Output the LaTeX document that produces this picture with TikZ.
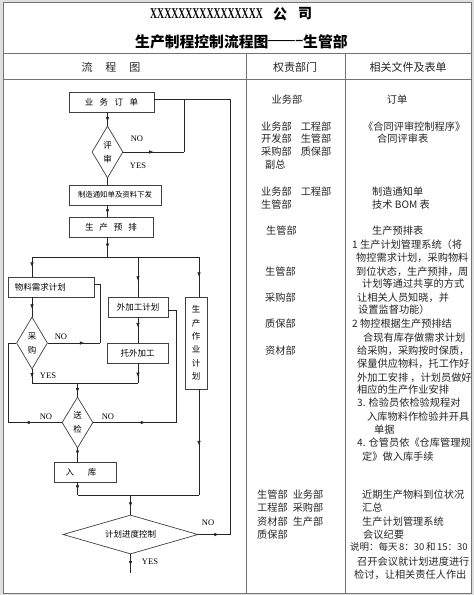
\documentclass[tikz,border=0pt]{standalone}
\usepackage{fontspec}
\setmainfont{Liberation Serif}
\newfontfamily\cjk{Noto Sans CJK SC}
\usetikzlibrary{shapes.geometric,arrows.meta,decorations.markings}
\tikzset{
 fbox/.style={draw=black!75, line width=0.7pt, fill=white, inner sep=0pt, minimum height=20pt, font=\cjk\fontsize{8.5}{10}\selectfont},
 fdia/.style={draw=black!75, line width=0.7pt, shape=diamond, aspect=0.6, inner sep=0pt, font=\cjk\fontsize{8.5}{14}\selectfont, align=center},
 conn/.style={draw=black!85, line width=0.6pt},
 am/.style={decoration={markings, mark=at position #1 with {\arrow{Latex[length=4.5pt,width=3.5pt]}}}, postaction={decorate}},
 yn/.style={font=\fontsize{8.5}{9}\selectfont, inner sep=0pt},
 tline/.style={draw=black!55, line width=0.9pt},
 rt/.style={anchor=west, inner sep=0pt, font=\cjk\fontsize{10.2}{12}\selectfont, text=black!85},
 ct/.style={inner sep=0pt, font=\cjk\fontsize{10.2}{12}\selectfont, text=black!85},
 hd/.style={inner sep=0pt, font=\cjk\fontsize{11}{12}\selectfont, text=black!85},
}
\begin{document}
\begin{tikzpicture}[x=1pt,y=-1pt]
\useasboundingbox (0,0) rectangle (474,595);
\fill[gray!25] (0,0) rectangle (474,595);
\fill[white] (3,2) rectangle (471,593);
% table
\draw[tline] (3,2) rectangle (471,593);
\draw[tline] (3,53) -- (471,53);
\draw[tline] (3,79) -- (471,79);
\draw[tline] (246,53) -- (246,593);
\draw[tline] (345,53) -- (345,593);
% titles
\node[inner sep=0pt, anchor=west, font=\fontsize{15}{15}\selectfont\bfseries] (tx) at (150,14) {\scalebox{0.65}[1]{XXXXXXXXXXXXXXXX}};
\node[inner sep=0pt, font=\cjk\fontsize{14}{14}\selectfont\bfseries] (tg) at (280,14) {公};
\node[inner sep=0pt, font=\cjk\fontsize{14}{14}\selectfont\bfseries] (ts) at (305,14) {司};
\node[inner sep=0pt, anchor=west, font=\cjk\fontsize{14.8}{15}\selectfont\bfseries] (t2a) at (135,42) {生产制程控制流程图};
\node[inner sep=0pt, anchor=west, font=\fontsize{14.8}{15}\selectfont\bfseries] (t2b) at (268,42) {\scalebox{1.8}[1]{----}};
\node[inner sep=0pt, anchor=west, font=\cjk\fontsize{14.8}{15}\selectfont\bfseries] (t2c) at (303,42) {生管部};
% header
\node[hd] (h1) at (111,67) {流\hspace{13pt}程\hspace{13pt}图};
\node[hd] (h2) at (295,67) {权责部门};
\node[hd] (h3) at (408,67) {相关文件及表单};
% flow nodes
\node[fbox, minimum width=85pt] (ywdd) at (111.5,102) {业\hspace{6.5pt}务\hspace{6.5pt}订\hspace{6.5pt}单};
\node[fdia, minimum width=31pt, minimum height=52pt] (ps) at (107.5,152) {评\\审};
\node[fbox, minimum width=92pt, font=\cjk\fontsize{7.4}{9}\selectfont] (zztz) at (115,195) {制造通知单及资料下发};
\node[fbox, minimum width=84pt] (scyp) at (111,227) {生\hspace{6pt}产\hspace{6pt}预\hspace{6pt}排};
\node[fbox, minimum width=86pt, text width=72pt, inner xsep=7pt, align=left] (wlxq) at (51,287) {物料需求计划};
\node[fdia, minimum width=31pt, minimum height=52pt] (cg) at (32,343) {采\\购};
\node[fbox, minimum width=60pt] (wjg) at (138,307) {外加工计划};
\node[fbox, minimum width=61pt] (twjg) at (137.5,353) {托外加工};
\node[fbox, minimum width=22pt, minimum height=92pt, align=center, font=\cjk\fontsize{8.5}{13.3}\selectfont] (sczy) at (196,343) {生\\产\\作\\业\\计\\划};
\node[fdia, minimum width=31pt, minimum height=51pt] (sj) at (77.5,422.5) {送\\检};
\node[fbox, minimum width=62pt] (rk) at (85,472) {\hspace{-8pt}入\hspace{14pt}库};
\node[fdia, minimum width=135pt, minimum height=39pt, aspect=3.5] (jhjd) at (130.5,534.5) {计划进度控制};
% coordinates
\coordinate (t1) at (230,99);
\coordinate (t2) at (184,99);
\coordinate (b0) at (107.5,257);
\coordinate (bl) at (32,257);
\coordinate (bm) at (138,257);
\coordinate (br) at (199,257);
\coordinate (c1) at (100,343);
\coordinate (c2) at (100,284);
\coordinate (d1) at (8,422.5);
\coordinate (d2) at (8,343);
\coordinate (j1) at (32,383);
\coordinate (j2) at (138,383);
\coordinate (j3) at (77.5,383);
\coordinate (e1) at (176,422.5);
\coordinate (e2) at (176,310);
\coordinate (k1) at (77.5,495);
\coordinate (k2) at (199,495);
\coordinate (k3) at (130.5,495);
\coordinate (endp) at (130.5,573);
% connectors
\draw[conn, am=0.7] (ps.north |- ywdd.south) -- (ps.north);
\draw[conn, am=0.65] (jhjd.east) -- (jhjd.east -| t1);
\draw[conn] (jhjd.east -| t1) -- (t1) -- ([yshift=3pt]ywdd.east);
\draw[conn, am=0.5] (ps.east) -- (ps.east -| t2);
\draw[conn] (ps.east -| t2) -- (t2);
\draw[conn] (ps.south) -- (ps.south |- zztz.north);
\draw[conn, am=0.75] (ps.south |- zztz.south) -- (ps.south |- scyp.north);
\draw[conn, am=0.55] (ps.south |- scyp.south) -- (b0);
\draw[conn] (bl) -- (br);
\draw[conn, am=0.5] (bl) -- (bl |- wlxq.north);
\draw[conn, am=0.6] (bm) -- (bm |- wjg.north);
\draw[conn, am=0.5] (br) -- (br |- sczy.north);
\draw[conn, am=0.6] (bl |- wlxq.south) -- (cg.north);
\draw[conn, am=0.7] (cg.east) -- (c1);
\draw[conn] (c1) -- (c2) -- (c2 -| wlxq.east);
\draw[conn, am=0.68] (sj.west) -- (d1);
\draw[conn] (d1) -- (d2) -- (cg.west);
\draw[conn, am=0.6] (cg.south) -- (j1);
\draw[conn, am=0.7] (bm |- twjg.south) -- (j2);
\draw[conn] (j1) -- (j2);
\draw[conn, am=0.7] (j3) -- (sj.north);
\draw[conn, am=0.63] (sj.east) -- (e1);
\draw[conn] (e1) -- (e2) -- (e2 -| wjg.east);
\draw[conn, am=0.4] (bm |- wjg.south) -- (bm |- twjg.north);
\draw[conn, am=0.5] (sj.south) -- (sj.south |- rk.north);
\draw[conn, am=0.6] (sj.south |- rk.south) -- (k1);
\draw[conn, am=0.53] (br |- sczy.south) -- (k2);
\draw[conn] (k1) -- (k2);
\draw[conn, am=0.6] (k3) -- (jhjd.north);
\draw[conn, am=0.6] (jhjd.south) -- (endp);
% yes/no labels
\node[yn] (n1) at (137,139) {NO};
\node[yn] (y1) at (138,166) {YES};
\node[yn] (n2) at (61,337) {NO};
\node[yn] (y2) at (48,376) {YES};
\node[yn] (n3) at (46,417) {NO};
\node[yn] (n4) at (108,417) {NO};
\node[yn] (n5) at (208,523) {NO};
\node[yn] (y3) at (150,562) {YES};
% responsibility column
\node[ct] (q1) at (287,100) {业务部};
\node[rt] (q2) at (261,126.7) {业务部\hspace{9pt}工程部};
\node[rt] (q3) at (261,138.5) {开发部\hspace{9pt}生管部};
\node[rt] (q4) at (261,151.7) {采购部\hspace{9pt}质保部};
\node[rt] (q5) at (265,165) {副总};
\node[rt] (q6) at (261,192) {业务部\hspace{9pt}工程部};
\node[rt] (q7) at (261,205) {生管部};
\node[rt] (q8) at (266,231) {生管部};
\node[rt] (q9) at (265,272) {生管部};
\node[rt] (q10) at (265,298) {采购部};
\node[rt] (q11) at (265,324) {质保部};
\node[rt] (q12) at (265,351) {资材部};
\node[rt] (q13) at (257,495) {生管部\hspace{5pt}业务部};
\node[rt] (q14) at (257,508) {工程部\hspace{5pt}采购部};
\node[rt] (q15) at (257,522) {资材部\hspace{5pt}生产部};
\node[rt] (q16) at (257,535) {质保部};
% documents column
\node[ct] (r1) at (397,100) {订单};
\node[rt] (r2) at (363,126.7) {《合同评审控制程序》};
\node[rt] (r3) at (377,138.3) {合同评审表};
\node[rt] (r4) at (372,192) {制造通知单};
\node[rt] (r5) at (372,205) {技术 BOM 表};
\node[rt] (r6) at (372,231) {生产预排表};
\node[rt] (r7) at (352,245) {1 生产计划管理系统（将};
\node[rt] (r8) at (356,258) {物控需求计划，采购物料};
\node[rt] (r9) at (356,272) {到位状态，生产预排，周};
\node[rt] (r10) at (362,284) {计划等通过共享的方式};
\node[rt] (r11) at (357,298) {让相关人员知晓，并};
\node[rt] (r12) at (358,310) {设置监督功能）};
\node[rt] (r13) at (352,324) {2 物控根据生产预排结};
\node[rt] (r14) at (363,338) {合现有库存做需求计划};
\node[rt] (r15) at (357,351) {给采购，采购按时保质，};
\node[rt] (r16) at (357,364) {保量供应物料，托工作好};
\node[rt] (r17) at (357,378) {外加工安排 ，计划员做好};
\node[rt] (r18) at (357,390) {相应的生产作业安排};
\node[rt] (r19) at (357,403) {3. 检验员依检验规程对};
\node[rt] (r20) at (367,417) {入库物料作检验并开具};
\node[rt] (r21) at (374,430) {单据};
\node[rt] (r22) at (357,443) {4. 仓管员依《仓库管理规};
\node[rt] (r23) at (362,457) {定》做入库手续};
\node[rt] (r24) at (362,495) {近期生产物料到位状况};
\node[rt] (r25) at (362,508) {汇总};
\node[rt] (r26) at (362,522) {生产计划管理系统};
\node[rt] (r27) at (363,535) {会议纪要};
\node[rt, font=\cjk\fontsize{9.5}{12}\selectfont] (r28) at (350,547) {说明：每天\hspace{1.5pt}8：30\hspace{1.5pt}和\hspace{1.5pt}15：30};
\node[rt] (r29) at (357,562) {召开会议就计划进度进行};
\node[rt] (r30) at (354,575) {检讨，让相关责任人作出};
\end{tikzpicture}
\end{document}
